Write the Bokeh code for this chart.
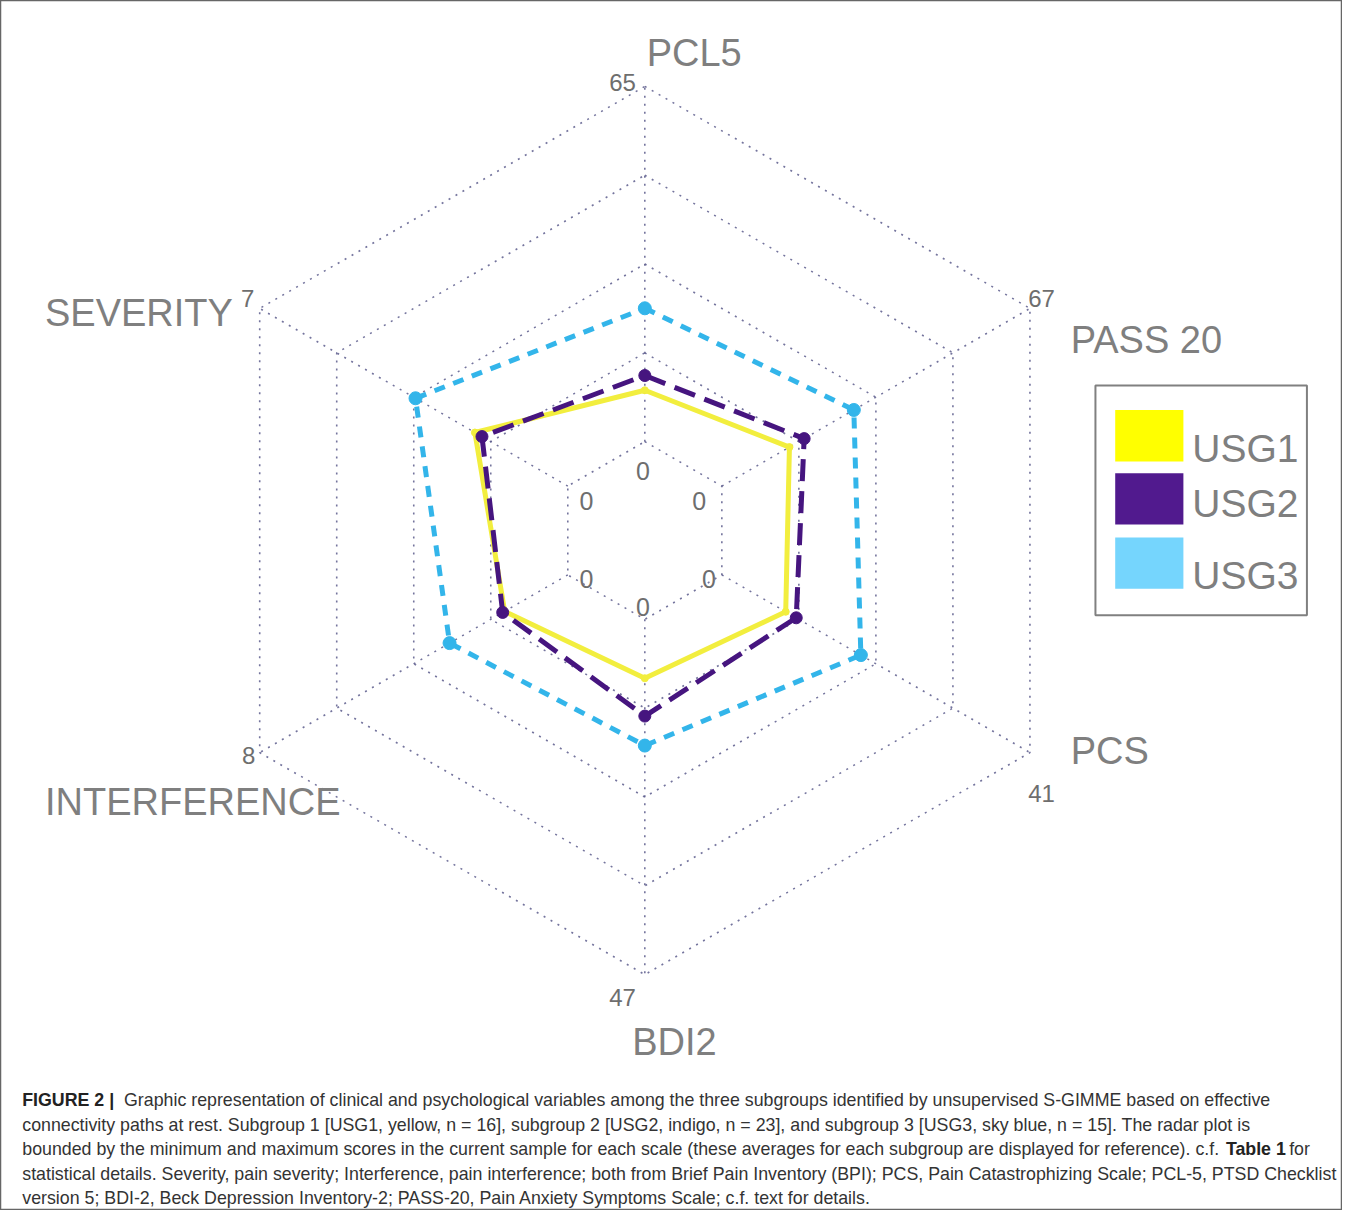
import numpy as np
from bokeh.plotting import figure
from bokeh.models import Range1d
from bokeh.embed import file_html
from bokeh.resources import INLINE
from bokeh.core.properties import value

# ---------------- data ----------------
axis_names = ["PCL5", "PASS 20", "PCS", "BDI2", "INTERFERENCE", "SEVERITY"]
axis_max = [65, 67, 41, 47, 8, 7]
axis_min = [0, 0, 0, 0, 0, 0]
usg1 = [9.4, 14.7, 8.5, 7.8, 1.64, 2.11]
usg2 = [12.1, 17.9, 9.9, 12.8, 1.69, 1.95]
usg3 = [24.4, 28.7, 18.5, 16.7, 3.07, 3.46]
series_names = ["USG1", "USG2", "USG3"]

caption_lines = [
    "Graphic representation of clinical and psychological variables among the three subgroups identified by unsupervised S-GIMME based on effective",
    "connectivity paths at rest. Subgroup 1 [USG1, yellow, n = 16], subgroup 2 [USG2, indigo, n = 23], and subgroup 3 [USG3, sky blue, n = 15]. The radar plot is",
    "bounded by the minimum and maximum scores in the current sample for each scale (these averages for each subgroup are displayed for reference). c.f.",
    "statistical details. Severity, pain severity; Interference, pain interference; both from Brief Pain Inventory (BPI); PCS, Pain Catastrophizing Scale; PCL-5, PTSD Checklist",
    "version 5; BDI-2, Beck Depression Inventory-2; PASS-20, Pain Anxiety Symptoms Scale; c.f. text for details.",
]

# ---------------- geometry ----------------
FONT = value("Liberation Sans")
angles = np.deg2rad([90, 30, -30, -90, -150, 150])
R0, R1 = 90.0, 450.0
CX, CY = 652, 537          # radar centre in the reference frame
REF_W, REF_H = 1358, 1226


def radius(vals):
    return [R0 + (R1 - R0) * (v - lo) / (hi - lo) for v, lo, hi in zip(vals, axis_min, axis_max)]


def polar(rs):
    xs = [r * np.cos(a) for r, a in zip(rs, angles)]
    ys = [r * np.sin(a) for r, a in zip(rs, angles)]
    return xs, ys


def ry(y_ref):
    """reference screen-y -> data y"""
    return CY - y_ref


W, H = 1342, 1210
p = figure(width=W, height=H, output_backend="svg", toolbar_location=None,
           x_range=Range1d(-CX, REF_W - CX), y_range=Range1d(CY - REF_H, CY),
           x_axis_type=None, y_axis_type=None, min_border=0,
           background_fill_color="white", border_fill_color="white")
p.outline_line_color = "#666666"
p.outline_line_width = 1.5
p.grid.visible = False

GRID = "#5c5c8c"
# rings
ring_xs, ring_ys = [], []
for k in range(5):
    r = R0 + k * (R1 - R0) / 4
    xs, ys = polar([r] * 6)
    ring_xs.append(xs + [xs[0]])
    ring_ys.append(ys + [ys[0]])
p.multi_line(ring_xs, ring_ys, line_color=GRID, line_width=1.6, line_dash="2 6", line_alpha=0.85)
# spokes
sx, sy = [], []
for a in angles:
    sx.append([R0 * np.cos(a), R1 * np.cos(a)])
    sy.append([R0 * np.sin(a), R1 * np.sin(a)])
p.multi_line(sx, sy, line_color=GRID, line_width=1.6, line_dash="2 6", line_alpha=0.85)

# series
x1, y1 = polar(radius(usg1))
x2, y2 = polar(radius(usg2))
x3, y3 = polar(radius(usg3))

p.line(x1 + [x1[0]], y1 + [y1[0]], line_color="#f2ee3e", line_width=5, line_join="round")
p.scatter(x1, y1, size=7, color="#f2ee3e")

p.line(x2 + [x2[0]], y2 + [y2[0]], line_color="#46157f", line_width=5, line_dash="22 10", line_join="round")
p.scatter(x2, y2, size=12, color="#46157f")

p.line(x3 + [x3[0]], y3 + [y3[0]], line_color="#33b5ea", line_width=5, line_dash="11 9", line_join="round")
p.scatter(x3, y3, size=13, color="#33b5ea")

# axis names
LABEL = "#7f7f7f"
name_pos = [(50, 484, "center"), (431, 193, "left"), (431, -223, "left"),
            (30, -518, "center"), (-607, -275, "left"), (-607, 220, "left")]
for name, (tx, ty, al) in zip(axis_names, name_pos):
    p.text(x=[tx], y=[ty], text=[name], text_font=FONT, text_font_size="38px",
           text_color=LABEL, text_align=al, text_baseline="alphabetic")

# max labels
max_pos = [(-9, 454, "right"), (388, 235, "left"), (388, -266, "left"),
           (-9, -473, "right"), (-394, -228, "right"), (-395, 235, "right")]
for mv, (tx, ty, al) in zip(axis_max, max_pos):
    p.text(x=[tx], y=[ty], text=[str(mv)], text_font=FONT, text_font_size="24px",
           text_color="#6e6e6e", text_align=al, text_baseline="alphabetic")

# min labels
min_pos = [(-2, 60), (55, 30), (65, -49), (-2, -78), (-59, -49), (-59, 30)]
for mv, (tx, ty) in zip(axis_min, min_pos):
    p.text(x=[tx], y=[ty], text=[str(mv)], text_font=FONT, text_font_size="25px",
           text_color="#6e6e6e", text_align="center", text_baseline="alphabetic")

# legend
p.quad(left=[456], right=[670], bottom=[-86], top=[147], fill_color=None,
       line_color="#808080", line_width=2)
leg_colors = ["#ffff00", "#511a8e", "#75d5fd"]
sw_tops = [122, 58, -7]
txt_base = [83, 27, -46]
for nm, c, t, b in zip(series_names, leg_colors, sw_tops, txt_base):
    p.quad(left=[476], right=[545], top=[t], bottom=[t - 52], fill_color=c, line_color=None)
    p.text(x=[554], y=[b], text=[nm], text_font=FONT, text_font_size="39px",
           text_color=LABEL, text_align="left", text_baseline="alphabetic")

# caption
CAP = "#333333"
CFS = "17.8px"
cap_x = 22 - CX
bases = [ry(1114), ry(1139), ry(1164), ry(1189), ry(1213)]
p.text(x=[cap_x], y=[bases[0]], text=["FIGURE 2 |"], text_font=FONT, text_font_size=CFS,
       text_font_style="bold", text_color="#222222", text_baseline="alphabetic")
p.text(x=[125 - CX], y=[bases[0]], text=[caption_lines[0]], text_font=FONT, text_font_size=CFS,
       text_color=CAP, text_baseline="alphabetic")
for i in range(1, 5):
    p.text(x=[cap_x], y=[bases[i]], text=[caption_lines[i]], text_font=FONT, text_font_size=CFS,
           text_color=CAP, text_baseline="alphabetic")
p.text(x=[1240 - CX], y=[bases[2]], text=["Table 1"], text_font=FONT, text_font_size=CFS,
       text_font_style="bold", text_color="#222222", text_baseline="alphabetic")
p.text(x=[1304 - CX], y=[bases[2]], text=["for"], text_font=FONT, text_font_size=CFS,
       text_color=CAP, text_baseline="alphabetic")

open("out.html", "w").write(file_html(p, INLINE))
